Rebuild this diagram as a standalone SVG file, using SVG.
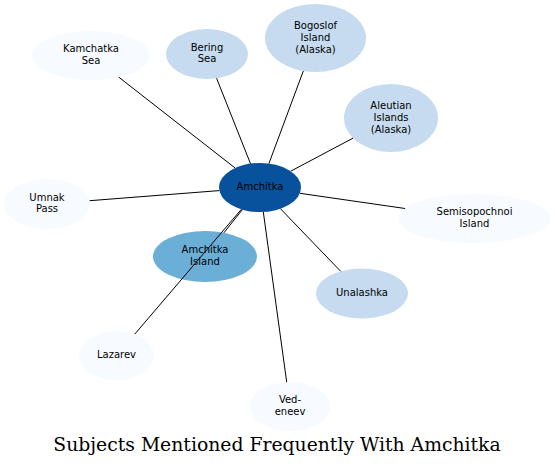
<svg xmlns="http://www.w3.org/2000/svg" width="555" height="467" viewBox="0 0 555 467">
<style>
.n text{font-family:"DejaVu Sans","Liberation Sans",sans-serif;font-size:10px;text-anchor:middle;fill:#000}
.c0{fill:#f7fbff}
.c1{fill:#c6dbef}
.c2{fill:#6baed6}
.c3{fill:#08519c}
#edges line{stroke:#000;stroke-width:1}
.title{font-family:"DejaVu Serif","Liberation Serif",serif;font-size:18.8px;text-anchor:middle;fill:#000}
</style>
<rect width="555" height="467" fill="#fff"/>
<g class="n" id="kamchatka"><ellipse class="c0" cx="91" cy="55.5" rx="59" ry="24.5"/><text x="91" y="52.2">Kamchatka</text><text x="91" y="63.9">Sea</text></g>
<g class="n" id="bering"><ellipse class="c1" cx="207" cy="54" rx="41" ry="25"/><text x="207" y="50.7">Bering</text><text x="207" y="62.4">Sea</text></g>
<g class="n" id="bogoslof"><ellipse class="c1" cx="315.5" cy="38" rx="50.5" ry="34"/><text x="315.5" y="29.3">Bogoslof</text><text x="315.5" y="41">Island</text><text x="315.5" y="52.7">(Alaska)</text></g>
<g class="n" id="aleutian"><ellipse class="c1" cx="391" cy="118" rx="47" ry="34"/><text x="391" y="109.3">Aleutian</text><text x="391" y="121">Islands</text><text x="391" y="132.7">(Alaska)</text></g>
<g class="n" id="umnak"><ellipse class="c0" cx="47" cy="204" rx="43" ry="25"/><text x="47" y="200.7">Umnak</text><text x="47" y="212.4">Pass</text></g>
<g class="n" id="semisopochnoi"><ellipse class="c0" cx="474.5" cy="218.5" rx="76" ry="24.5"/><text x="474.5" y="215.2">Semisopochnoi</text><text x="474.5" y="226.9">Island</text></g>
<g class="n" id="amchitka"><ellipse class="c3" cx="260" cy="187.5" rx="41" ry="24.5"/><text x="260" y="190.2">Amchitka</text></g>
<g class="n" id="amchitka-island"><ellipse class="c2" cx="205" cy="256.5" rx="52" ry="25.5"/><text x="205" y="253.2">Amchitka</text><text x="205" y="264.9">Island</text></g>
<g class="n" id="unalashka"><ellipse class="c1" cx="362" cy="293.5" rx="46" ry="25"/><text x="362" y="296">Unalashka</text></g>
<g class="n" id="lazarev"><ellipse class="c0" cx="116.5" cy="355.5" rx="37.5" ry="24.5"/><text x="116.5" y="358">Lazarev</text></g>
<g class="n" id="vedeneev"><ellipse class="c0" cx="290" cy="406.5" rx="40.5" ry="24.5"/><text x="290" y="403.2">Ved-</text><text x="290" y="414.9">eneev</text></g>
<g id="edges">
<line x1="235.1" y1="168" x2="118.7" y2="77.1"/>
<line x1="250.5" y1="163.7" x2="216.6" y2="78.3"/>
<line x1="268.9" y1="163.6" x2="303.3" y2="71"/>
<line x1="290.7" y1="171.2" x2="353.1" y2="138.1"/>
<line x1="219.3" y1="190.6" x2="89.6" y2="200.7"/>
<line x1="299.9" y1="193.3" x2="405.1" y2="208.5"/>
<line x1="280.4" y1="208.7" x2="340.7" y2="271.3"/>
<line x1="263.3" y1="211.9" x2="286.7" y2="382.1"/>
<line x1="241.4" y1="209.3" x2="134.8" y2="334.1"/>
<line x1="242.4" y1="209.6" x2="223.9" y2="232.8"/>
</g>
<text class="title" x="277" y="451">Subjects Mentioned Frequently With Amchitka</text>
</svg>
